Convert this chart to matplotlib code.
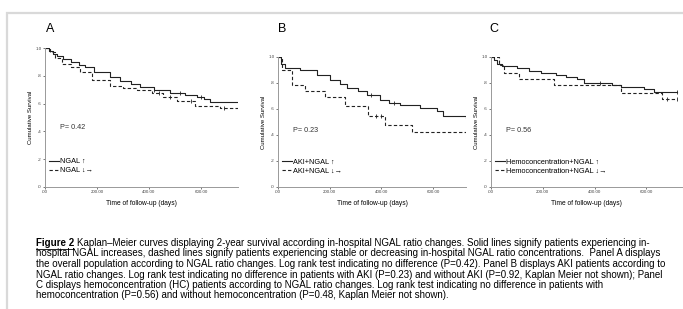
import numpy as np
import matplotlib
matplotlib.use('Agg')
import matplotlib.pyplot as plt
from matplotlib.lines import Line2D
from matplotlib.patches import Rectangle

plt.rcParams['font.family'] = ['Liberation Sans', 'DejaVu Sans']

W, H = 683, 309

# Panel A: overall population
a_up_t = [0, 15, 30, 45, 70, 100, 130, 154, 190, 250, 290, 330, 365, 420, 480, 540, 585, 610, 635, 742]
a_up_s = [1.0, 0.98, 0.96, 0.94, 0.92, 0.90, 0.88, 0.86, 0.83, 0.79, 0.76, 0.74, 0.72, 0.70, 0.675, 0.66, 0.65, 0.63, 0.61, 0.61]
a_dn_t = [0, 20, 40, 65, 100, 135, 180, 250, 300, 354, 410, 455, 507, 577, 673, 742]
a_dn_s = [1.0, 0.97, 0.93, 0.885, 0.86, 0.83, 0.77, 0.73, 0.715, 0.70, 0.675, 0.65, 0.62, 0.58, 0.565, 0.565]
a_up_cens = [420, 520, 600]
a_dn_cens = [440, 480, 560, 690]

# Panel B: AKI patients
b_up_t = [0, 10, 27, 85, 150, 200, 240, 267, 310, 344, 395, 430, 472, 550, 615, 638, 727]
b_up_s = [1.0, 0.95, 0.915, 0.90, 0.86, 0.82, 0.79, 0.76, 0.735, 0.71, 0.67, 0.65, 0.63, 0.61, 0.585, 0.545, 0.53]
b_dn_t = [0, 15, 54, 104, 182, 260, 348, 414, 518, 727]
b_dn_s = [1.0, 0.90, 0.785, 0.74, 0.69, 0.62, 0.55, 0.48, 0.42, 0.42]
b_up_cens = [360, 450]
b_dn_cens = [380, 400]

# Panel C: hemoconcentration patients
c_up_t = [0, 12, 23, 43, 100, 147, 194, 252, 290, 333, 360, 468, 503, 592, 630, 720]
c_up_s = [1.0, 0.975, 0.945, 0.93, 0.915, 0.89, 0.875, 0.865, 0.85, 0.83, 0.80, 0.785, 0.77, 0.755, 0.73, 0.73]
c_dn_t = [0, 31, 50, 108, 244, 503, 662, 720]
c_dn_s = [1.0, 0.94, 0.875, 0.83, 0.785, 0.725, 0.675, 0.675]
c_up_cens = [420, 720]
c_dn_cens = [680, 720]

x_ticks = [0, 200, 400, 600]
x_ticklabels = ['.00', '200.00', '400.00', '600.00']
y_ticks = [0, 0.2, 0.4, 0.6, 0.8, 1.0]
y_ticklabels = ['.0', '.2', '.4', '.6', '.8', '1.0']

panels = [
    dict(letter='A', p='P= 0.42', lab_up='NGAL \u2191', lab_dn='NGAL \u2193\u2192',
         up=(a_up_t, a_up_s, a_up_cens), dn=(a_dn_t, a_dn_s, a_dn_cens),
         box=(45, 238, 48, 187), xmax=742, letter_x=46),
    dict(letter='B', p='P= 0.23', lab_up='AKI+NGAL \u2191', lab_dn='AKI+NGAL \u2193\u2192',
         up=(b_up_t, b_up_s, b_up_cens), dn=(b_dn_t, b_dn_s, b_dn_cens),
         box=(278, 466, 57, 187), xmax=727, letter_x=278),
    dict(letter='C', p='P= 0.56', lab_up='Hemoconcentration+NGAL \u2191',
         lab_dn='Hemoconcentration+NGAL \u2193\u2192',
         up=(c_up_t, c_up_s, c_up_cens), dn=(c_dn_t, c_dn_s, c_dn_cens),
         box=(491, 682, 57, 187), xmax=738, letter_x=489),
]

caption = [
    'Kaplan\u2013Meier curves displaying 2-year survival according in-hospital NGAL ratio changes. Solid lines signify patients experiencing in-',
    'hospital NGAL increases, dashed lines signify patients experiencing stable or decreasing in-hospital NGAL ratio concentrations.  Panel A displays',
    'the overall population according to NGAL ratio changes. Log rank test indicating no difference (P=0.42). Panel B displays AKI patients according to',
    'NGAL ratio changes. Log rank test indicating no difference in patients with AKI (P=0.23) and without AKI (P=0.92, Kaplan Meier not shown); Panel',
    'C displays hemoconcentration (HC) patients according to NGAL ratio changes. Log rank test indicating no difference in patients with',
    'hemoconcentration (P=0.56) and without hemoconcentration (P=0.48, Kaplan Meier not shown).',
]


def km_line(ax, t, s, cens, ls, label):
    ax.step(t, s, where='post', color='#222222', linestyle=ls, linewidth=0.8,
            dashes=(3, 2) if ls == '--' else (None, None), label=label)
    cs = [s[np.searchsorted(t, c, side='right') - 1] for c in cens]
    ax.scatter(cens, cs, marker='|', s=8, color='#222222', linewidths=0.6)


fig = plt.figure(figsize=(W / 100, H / 100), dpi=100)

# outer frame of the figure box
fig.add_artist(Rectangle((7 / W, -0.1), 2, 1.1 - 13 / H, transform=fig.transFigure,
                         fill=False, edgecolor='#d9d9d9', linewidth=1.6))

for pn in panels:
    x0, x1, ytop, ybot = pn['box']
    ax = fig.add_axes([x0 / W, 1 - ybot / H, (x1 - x0) / W, (ybot - ytop) / H])
    t, s, c = pn['up']
    km_line(ax, t, s, c, '-', pn['lab_up'])
    t, s, c = pn['dn']
    km_line(ax, t, s, c, '--', pn['lab_dn'])
    ax.set_xlim(0, pn['xmax'])
    ax.set_ylim(0, 1.0)
    ax.set_xticks(x_ticks)
    ax.set_xticklabels(x_ticklabels)
    ax.set_yticks(y_ticks)
    ax.set_yticklabels(y_ticklabels)
    ax.tick_params(labelsize=3.2, length=1.5, width=0.5, pad=1, colors='#444444')
    for sp in ['top', 'right']:
        ax.spines[sp].set_visible(False)
    for sp in ['left', 'bottom']:
        ax.spines[sp].set_color('#999999')
        ax.spines[sp].set_linewidth(0.7)
    ax.set_ylabel('Cumulative Survival', fontsize=4.3, labelpad=1.5)
    ax.set_xlabel('Time of follow-up (days)', fontsize=4.8, labelpad=4)
    fig.text(pn['letter_x'] / W, 1 - 29 / H, pn['letter'], fontsize=9, va='center')
    ax.text(0.08, 0.42, pn['p'], transform=ax.transAxes, fontsize=5.2, color='#333333')
    ax.legend(loc='lower left', bbox_to_anchor=(0.0, 0.06), frameon=False, fontsize=5.3,
              handlelength=1.3, handletextpad=0.2, labelspacing=0.25, borderaxespad=0.2)

# caption
y0 = 243
fs = 7.0
head = fig.text(36 / W, 1 - y0 / H, 'Figure 2', fontsize=fs, fontweight='bold', va='center')
fig.canvas.draw()
bb = head.get_window_extent()
fig.add_artist(Line2D([bb.x0 / W, bb.x1 / W], [(bb.y0 - 0.5) / H] * 2, color='black', linewidth=0.6))
fig.text((bb.x1 + 3) / W, 1 - y0 / H, caption[0], fontsize=fs, va='center')
for i, line in enumerate(caption[1:], start=1):
    fig.text(36 / W, 1 - (y0 + 10.5 * i) / H, line, fontsize=fs, va='center')

fig.savefig('out.png', dpi=100)
